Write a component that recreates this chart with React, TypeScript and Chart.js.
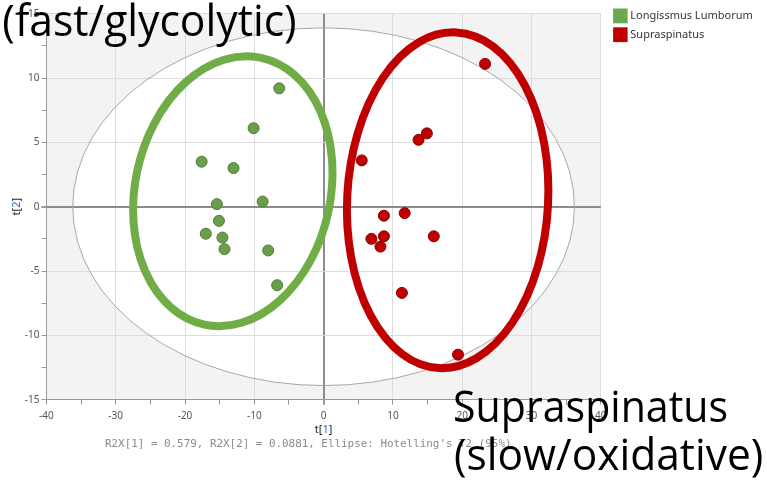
import React, { useEffect, useRef } from "react";
import { Chart, registerables } from "chart.js";

Chart.register(...registerables);

// ---- data ----
const groupNames = ["Longissmus Lumborum", "Supraspinatus"];
const groupColors = ["#6BA84F", "#C00000"];
const pointFill = ["#6A9E4B", "#C00000"];
const pointBorder = ["#4F7D37", "#870000"];

const lonX = [-6.4, -10.1, -17.6, -13.0, -15.4, -8.8, -15.1, -17.0, -14.6, -14.3, -8.0, -6.7];
const lonY = [9.2, 6.1, 3.5, 3.0, 0.2, 0.4, -1.1, -2.1, -2.4, -3.3, -3.4, -6.1];
const supX = [23.3, 14.9, 13.7, 5.5, 8.7, 11.7, 6.9, 8.7, 8.2, 15.9, 11.3, 19.4];
const supY = [11.1, 5.7, 5.2, 3.6, -0.7, -0.5, -2.5, -2.3, -3.1, -2.3, -6.7, -11.5];

const xRange = [-40, 40];
const yRange = [-15, 15];
const xSteps = [10, 5]; // major, minor
const ySteps = [5, 2.5];

// Hotelling's T2 ellipse semi-axes (t[1], t[2])
const hotellingRadii = [36.2, 13.9];

// hand-drawn group ellipses: centre (t1,t2), semi-axes (t1 units, t2 units), tilt deg
const groupEllipseCenterX = [-13.1, 17.9];
const groupEllipseCenterY = [1.2, 0.5];
const groupEllipseRadiusX = [14.1, 14.5];
const groupEllipseRadiusY = [10.6, 13.06];
const groupEllipseTilt = [12, 3];

const xTitleParts = ["t[", "1", "]"];
const yTitleParts = ["t[", "2", "]"];
const caption = "R2X[1] = 0.579, R2X[2] = 0.0881, Ellipse: Hotelling's T2 (95%)";
const labelTop = "(fast/glycolytic)";
const labelBottom = ["Supraspinatus", "(slow/oxidative)"];

const TICK_FONT = "'Noto Sans', 'DejaVu Sans', sans-serif";
const BIG_FONT = "'Open Sans', 'Noto Sans', sans-serif";

function drawFitted(ctx: CanvasRenderingContext2D, text: string, left: number, right: number, baseline: number, size: number) {
  ctx.save();
  ctx.font = `${size}px ${BIG_FONT}`;
  ctx.textAlign = "left";
  ctx.textBaseline = "alphabetic";
  const m = ctx.measureText(text);
  const inkW = m.actualBoundingBoxLeft + m.actualBoundingBoxRight;
  const sx = (right - left) / inkW;
  ctx.translate(left, baseline);
  ctx.scale(sx, 1);
  ctx.fillStyle = "#000";
  ctx.fillText(text, m.actualBoundingBoxLeft, 0);
  ctx.restore();
}

function drawParts(ctx: CanvasRenderingContext2D, parts: string[], cx: number, cy: number, rotate: boolean) {
  ctx.save();
  ctx.font = `11px ${TICK_FONT}`;
  ctx.textBaseline = "middle";
  ctx.textAlign = "left";
  const widths = parts.map((p) => ctx.measureText(p).width);
  const total = widths.reduce((a, b) => a + b, 0);
  ctx.translate(cx, cy);
  if (rotate) ctx.rotate(-Math.PI / 2);
  let x = -total / 2;
  parts.forEach((p, i) => {
    ctx.fillStyle = i === 1 ? "#2F6FC0" : "#222";
    ctx.fillText(p, x, 0);
    x += widths[i];
  });
  ctx.restore();
}

const overlayPlugin = {
  id: "overlay",
  beforeDraw(chart: any) {
    const { ctx, chartArea: a, scales } = chart;
    const xs = scales.x, ys = scales.y;
    ctx.save();
    ctx.fillStyle = "#F3F3F3";
    ctx.fillRect(a.left, a.top, a.right - a.left, a.bottom - a.top);
    const cx = xs.getPixelForValue(0), cy = ys.getPixelForValue(0);
    const rx = xs.getPixelForValue(hotellingRadii[0]) - cx;
    const ry = cy - ys.getPixelForValue(hotellingRadii[1]);
    ctx.beginPath();
    ctx.ellipse(cx, cy, rx, ry, 0, 0, Math.PI * 2);
    ctx.fillStyle = "#FFFFFF";
    ctx.fill();
    ctx.restore();
  },
  beforeDatasetsDraw(chart: any) {
    const { ctx, scales } = chart;
    const xs = scales.x, ys = scales.y;
    const cx = xs.getPixelForValue(0), cy = ys.getPixelForValue(0);
    const rx = xs.getPixelForValue(hotellingRadii[0]) - cx;
    const ry = cy - ys.getPixelForValue(hotellingRadii[1]);
    ctx.save();
    ctx.beginPath();
    ctx.ellipse(cx, cy, rx, ry, 0, 0, Math.PI * 2);
    ctx.strokeStyle = "#A8A8A8";
    ctx.lineWidth = 1;
    ctx.stroke();
    ctx.restore();
  },
  afterDraw(chart: any) {
    const { ctx, scales, chartArea: a } = chart;
    const xs = scales.x, ys = scales.y;
    // group ellipses
    const ellipseColors = ["#70AD47", "#C00000"];
    for (let i = 0; i < groupEllipseCenterX.length; i++) {
      const cx = xs.getPixelForValue(groupEllipseCenterX[i]);
      const cy = ys.getPixelForValue(groupEllipseCenterY[i]);
      const rx = xs.getPixelForValue(groupEllipseCenterX[i] + groupEllipseRadiusX[i]) - cx;
      const ry = cy - ys.getPixelForValue(groupEllipseCenterY[i] + groupEllipseRadiusY[i]);
      ctx.save();
      ctx.beginPath();
      ctx.ellipse(cx, cy, rx, ry, (groupEllipseTilt[i] * Math.PI) / 180, 0, Math.PI * 2);
      ctx.strokeStyle = ellipseColors[i];
      ctx.lineWidth = 8;
      ctx.stroke();
      ctx.restore();
    }
    // legend
    ctx.save();
    ctx.font = `11px ${TICK_FONT}`;
    ctx.textBaseline = "middle";
    ctx.textAlign = "left";
    groupNames.forEach((name, i) => {
      const top = 8.5 + i * 18.8;
      ctx.fillStyle = groupColors[i];
      ctx.fillRect(a.right + 12.3, top, 14.5, 14.8);
      ctx.fillStyle = "#333";
      ctx.fillText(name, a.right + 29.5, top + 7.6);
    });
    ctx.restore();
    // axis titles
    drawParts(ctx, xTitleParts, (a.left + a.right) / 2, a.bottom + 30.5, false);
    drawParts(ctx, yTitleParts, 17.3, (a.top + a.bottom) / 2, true);
    // caption
    ctx.save();
    ctx.font = `10.9px 'DejaVu Sans Mono', 'Liberation Mono', monospace`;
    ctx.fillStyle = "#8A8A8A";
    ctx.textBaseline = "middle";
    ctx.textAlign = "left";
    ctx.fillText(caption, 105, a.bottom + 44.5);
    ctx.restore();
    // big slide labels
    drawFitted(ctx, labelTop, 3.3, 295, 36, 43);
    drawFitted(ctx, labelBottom[0], 455, 726.7, 421.7, 43);
    drawFitted(ctx, labelBottom[1], 455, 761.7, 470, 43);
  },
};

export default function App() {
  const canvasRef = useRef<HTMLCanvasElement | null>(null);

  useEffect(() => {
    if (!canvasRef.current) return;
    const chart = new Chart(canvasRef.current, {
      type: "scatter",
      data: {
        datasets: [
          {
            label: groupNames[0],
            data: lonX.map((x, i) => ({ x, y: lonY[i] })),
            backgroundColor: pointFill[0],
            borderColor: pointBorder[0],
            borderWidth: 1,
            pointRadius: 5.5,
          },
          {
            label: groupNames[1],
            data: supX.map((x, i) => ({ x, y: supY[i] })),
            backgroundColor: pointFill[1],
            borderColor: pointBorder[1],
            borderWidth: 1,
            pointRadius: 5.5,
          },
        ],
      },
      options: {
        animation: false,
        responsive: false,
        layout: { padding: { left: 0, top: 13.7, right: 166.2, bottom: 0 } },
        plugins: { legend: { display: false }, tooltip: { enabled: false } },
        scales: {
          x: {
            type: "linear",
            min: xRange[0],
            max: xRange[1],
            ticks: {
              stepSize: xSteps[1],
              autoSkip: false,
              maxRotation: 0,
              padding: 5,
              color: "#555",
              font: { size: 10, family: TICK_FONT },
              callback: (v: any) => (Number(v) % xSteps[0] === 0 ? String(v) : ""),
            },
            grid: {
              color: (c: any) =>
                c.tick && c.tick.value === 0 ? "#8C8C8C" : c.tick && c.tick.value % xSteps[0] === 0 ? "#DCDCDC" : "rgba(0,0,0,0)",
              lineWidth: (c: any) => (c.tick && c.tick.value === 0 ? 2 : 1),
              tickColor: "#9A9A9A",
              tickLength: 5,
            },
            border: { color: "#9A9A9A", width: 1 },
            afterFit: (s: any) => {
              s.height = 86.3;
            },
          },
          y: {
            type: "linear",
            min: yRange[0],
            max: yRange[1],
            ticks: {
              stepSize: ySteps[1],
              autoSkip: false,
              padding: 2,
              color: "#555",
              font: { size: 10, family: TICK_FONT },
              callback: (v: any) => (Number(v) % ySteps[0] === 0 ? String(v) : ""),
            },
            grid: {
              color: (c: any) =>
                c.tick && c.tick.value === 0 ? "#8C8C8C" : c.tick && c.tick.value % ySteps[0] === 0 ? "#DCDCDC" : "rgba(0,0,0,0)",
              lineWidth: (c: any) => (c.tick && c.tick.value === 0 ? 2 : 1),
              tickColor: "#9A9A9A",
              tickLength: 5,
            },
            border: { color: "#9A9A9A", width: 1 },
            afterFit: (s: any) => {
              s.width = 46.4;
            },
          },
        },
      } as any,
      plugins: [overlayPlugin],
    });
    return () => chart.destroy();
  }, []);

  return (
    <div style={{ position: "absolute", left: 0, top: 0, width: 767, height: 486, background: "#fff" }}>
      <canvas ref={canvasRef} width={767} height={486} style={{ display: "block" }} />
    </div>
  );
}
